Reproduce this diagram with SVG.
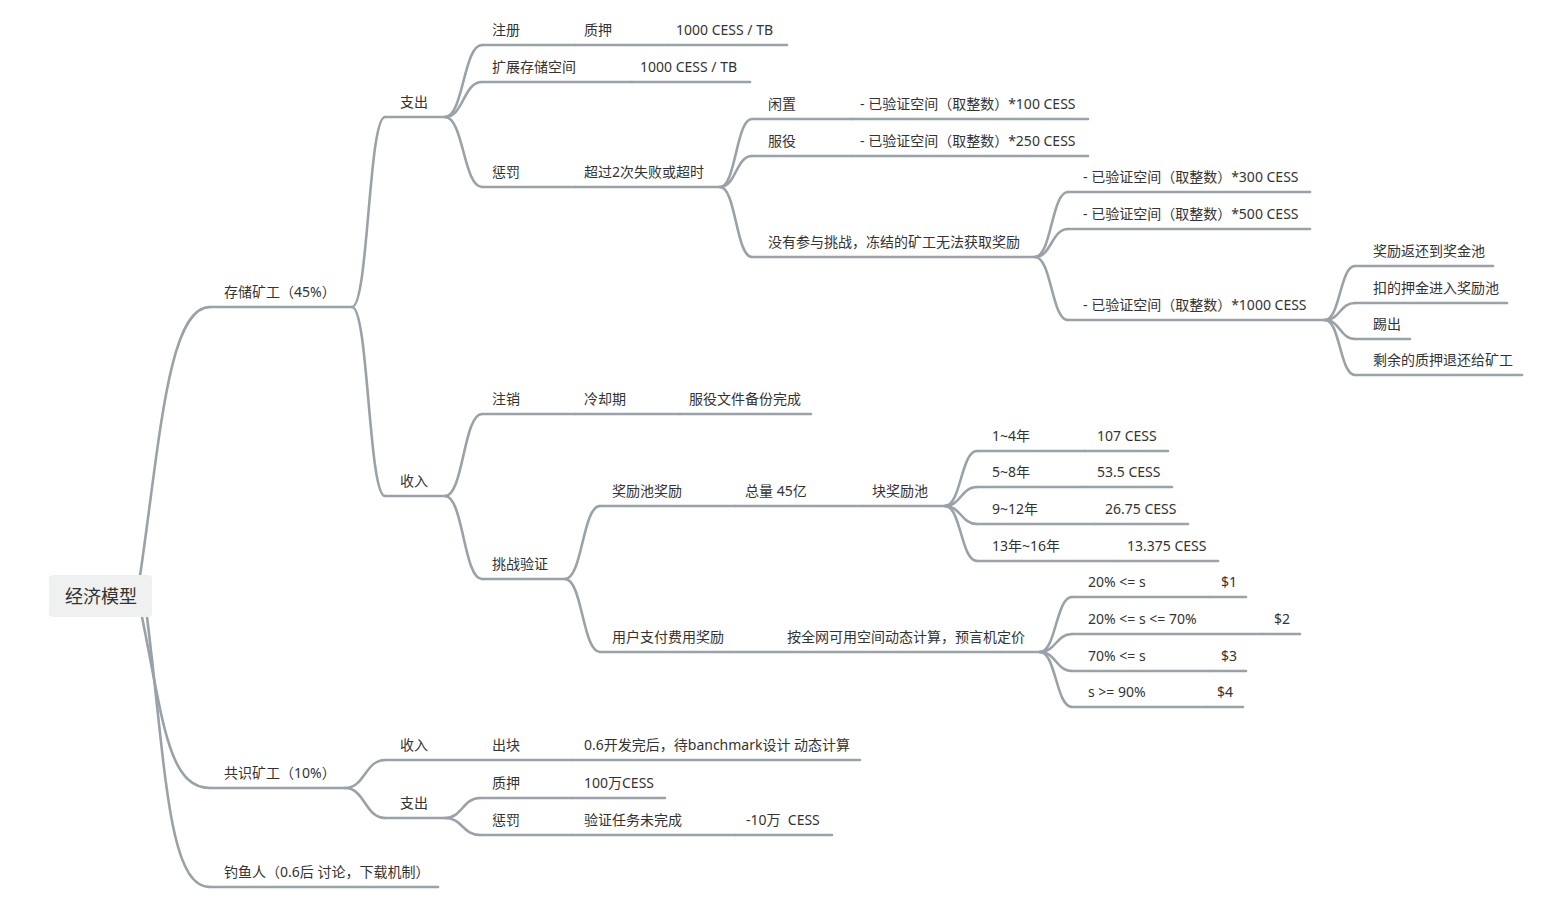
<svg xmlns="http://www.w3.org/2000/svg" width="1544" height="921" viewBox="0 0 1544 921">
<style>
text{font-family:"Noto Sans","Noto Sans CJK SC",sans-serif;font-size:14px;fill:#333;white-space:pre}
.root text{font-size:18px}
.u,.c{fill:none;stroke:#99a1a9;stroke-width:2.6;stroke-linecap:round}
</style>
<rect width="1544" height="921" fill="#fff"/>
<g id="connectors">
<path class="c" d="M140 576 C160 440 168 307 210 307"/>
<path class="c" d="M142 617 C163 720 168 788 210 788"/>
<path class="c" d="M147 617 C166 770 168 887 210 887"/>
<path class="c" d="M352 307 C368.5 307 368.5 117 385 117"/>
<path class="c" d="M352 307 C368.5 307 368.5 496 385 496"/>
<path class="c" d="M445 117 C463.5 117 463.5 45 482 45"/>
<path class="c" d="M445 117 C463.5 117 463.5 82 482 82"/>
<path class="c" d="M445 117 C463.5 117 463.5 187 482 187"/>
<path class="c" d="M720 187 C736 187 736 119 752 119"/>
<path class="c" d="M720 187 C736 187 736 156 752 156"/>
<path class="c" d="M720 187 C736 187 736 257 752 257"/>
<path class="c" d="M1035 257 C1051.5 257 1051.5 192 1068 192"/>
<path class="c" d="M1035 257 C1051.5 257 1051.5 229 1068 229"/>
<path class="c" d="M1035 257 C1051.5 257 1051.5 320 1068 320"/>
<path class="c" d="M1325 320 C1340 320 1340 266 1355 266"/>
<path class="c" d="M1325 320 C1340 320 1340 303 1355 303"/>
<path class="c" d="M1325 320 C1340 320 1340 339 1355 339"/>
<path class="c" d="M1325 320 C1340 320 1340 375 1355 375"/>
<path class="c" d="M445 496 C463.5 496 463.5 414 482 414"/>
<path class="c" d="M445 496 C463.5 496 463.5 579 482 579"/>
<path class="c" d="M565 579 C582.5 579 582.5 506 600 506"/>
<path class="c" d="M565 579 C582.5 579 582.5 652 600 652"/>
<path class="c" d="M945 506 C961 506 961 451 977 451"/>
<path class="c" d="M945 506 C961 506 961 487 977 487"/>
<path class="c" d="M945 506 C961 506 961 524 977 524"/>
<path class="c" d="M945 506 C961 506 961 561 977 561"/>
<path class="c" d="M1040 652 C1056 652 1056 597 1072 597"/>
<path class="c" d="M1040 652 C1056 652 1056 634 1072 634"/>
<path class="c" d="M1040 652 C1056 652 1056 671 1072 671"/>
<path class="c" d="M1040 652 C1056 652 1056 707 1072 707"/>
<path class="c" d="M345 788 C365 788 365 760 385 760"/>
<path class="c" d="M345 788 C365 788 365 818 385 818"/>
<path class="c" d="M445 818 C462.5 818 462.5 798 480 798"/>
<path class="c" d="M445 818 C462.5 818 462.5 835 480 835"/>
</g>
<g id="root" class="root"><rect x="49" y="575" width="103" height="42" rx="4" fill="#eff1f0"/><text x="65" y="603">经济模型</text></g>

<g id="n-storage"><path class="u" d="M210 307H352"/><text x="224" y="297">存储矿工（45%）</text></g>
<g id="n-s-out"><path class="u" d="M385 117H445"/><text x="400" y="107">支出</text></g>
<g id="n-reg"><path class="u" d="M482 45H575"/><text x="492" y="35">注册</text></g>
<g id="n-reg-pledge"><path class="u" d="M575 45H668"/><text x="584" y="35">质押</text></g>
<g id="n-reg-amt"><path class="u" d="M668 45H787"/><text x="676" y="35">1000 CESS / TB</text></g>
<g id="n-expand"><path class="u" d="M482 82H632"/><text x="492" y="72">扩展存储空间</text></g>
<g id="n-expand-amt"><path class="u" d="M632 82H750"/><text x="640" y="72">1000 CESS / TB</text></g>
<g id="n-penalty"><path class="u" d="M482 187H575"/><text x="492" y="177">惩罚</text></g>
<g id="n-penalty-cond"><path class="u" d="M575 187H720"/><text x="584" y="177">超过2次失败或超时</text></g>
<g id="n-idle"><path class="u" d="M752 119H852"/><text x="768" y="109">闲置</text></g>
<g id="n-idle-amt"><path class="u" d="M852 119H1088"/><text x="860" y="109">- 已验证空间（取整数）*100 CESS</text></g>
<g id="n-serve"><path class="u" d="M752 156H852"/><text x="768" y="146">服役</text></g>
<g id="n-serve-amt"><path class="u" d="M852 156H1088"/><text x="860" y="146">- 已验证空间（取整数）*250 CESS</text></g>
<g id="n-nochal"><path class="u" d="M752 257H1035"/><text x="768" y="247">没有参与挑战，冻结的矿工无法获取奖励</text></g>
<g id="n-300"><path class="u" d="M1068 192H1310"/><text x="1083" y="182">- 已验证空间（取整数）*300 CESS</text></g>
<g id="n-500"><path class="u" d="M1068 229H1310"/><text x="1083" y="219">- 已验证空间（取整数）*500 CESS</text></g>
<g id="n-1000"><path class="u" d="M1068 320H1325"/><text x="1083" y="310">- 已验证空间（取整数）*1000 CESS</text></g>
<g id="n-return"><path class="u" d="M1355 266H1493"/><text x="1373" y="256">奖励返还到奖金池</text></g>
<g id="n-deposit"><path class="u" d="M1355 303H1507"/><text x="1373" y="293">扣的押金进入奖励池</text></g>
<g id="n-kick"><path class="u" d="M1355 339H1410"/><text x="1373" y="329">踢出</text></g>
<g id="n-refund"><path class="u" d="M1355 375H1522"/><text x="1373" y="365">剩余的质押退还给矿工</text></g>

<g id="n-s-in"><path class="u" d="M385 496H445"/><text x="400" y="486">收入</text></g>
<g id="n-cancel"><path class="u" d="M482 414H575"/><text x="492" y="404">注销</text></g>
<g id="n-cool"><path class="u" d="M575 414H680"/><text x="584" y="404">冷却期</text></g>
<g id="n-backup"><path class="u" d="M680 414H811"/><text x="689" y="404">服役文件备份完成</text></g>
<g id="n-chal"><path class="u" d="M482 579H565"/><text x="492" y="569">挑战验证</text></g>
<g id="n-pool"><path class="u" d="M600 506H735"/><text x="612" y="496">奖励池奖励</text></g>
<g id="n-total"><path class="u" d="M735 506H862"/><text x="745" y="496">总量 45亿</text></g>
<g id="n-block"><path class="u" d="M862 506H945"/><text x="872" y="496">块奖励池</text></g>
<g id="n-y1"><path class="u" d="M977 451H1085"/><text x="992" y="441">1~4年</text></g>
<g id="n-y1v"><path class="u" d="M1085 451H1168"/><text x="1097" y="441">107 CESS</text></g>
<g id="n-y2"><path class="u" d="M977 487H1085"/><text x="992" y="477">5~8年</text></g>
<g id="n-y2v"><path class="u" d="M1085 487H1172"/><text x="1097" y="477">53.5 CESS</text></g>
<g id="n-y3"><path class="u" d="M977 524H1095"/><text x="992" y="514">9~12年</text></g>
<g id="n-y3v"><path class="u" d="M1095 524H1188"/><text x="1105" y="514">26.75 CESS</text></g>
<g id="n-y4"><path class="u" d="M977 561H1115"/><text x="992" y="551">13年~16年</text></g>
<g id="n-y4v"><path class="u" d="M1115 561H1218"/><text x="1127" y="551">13.375 CESS</text></g>
<g id="n-user"><path class="u" d="M600 652H730"/><text x="612" y="642">用户支付费用奖励</text></g>
<g id="n-dyn"><path class="u" d="M730 652H1040"/><text x="787" y="642">按全网可用空间动态计算，预言机定价</text></g>
<g id="n-p1"><path class="u" d="M1072 597H1210"/><text x="1088" y="587">20% &lt;= s</text></g>
<g id="n-p1v"><path class="u" d="M1210 597H1246"/><text x="1221" y="587">$1</text></g>
<g id="n-p2"><path class="u" d="M1072 634H1262"/><text x="1088" y="624">20% &lt;= s &lt;= 70%</text></g>
<g id="n-p2v"><path class="u" d="M1262 634H1300"/><text x="1274" y="624">$2</text></g>
<g id="n-p3"><path class="u" d="M1072 671H1210"/><text x="1088" y="661">70% &lt;= s</text></g>
<g id="n-p3v"><path class="u" d="M1210 671H1246"/><text x="1221" y="661">$3</text></g>
<g id="n-p4"><path class="u" d="M1072 707H1206"/><text x="1088" y="697">s &gt;= 90%</text></g>
<g id="n-p4v"><path class="u" d="M1206 707H1243"/><text x="1217" y="697">$4</text></g>

<g id="n-consensus"><path class="u" d="M210 788H345"/><text x="224" y="778">共识矿工（10%）</text></g>
<g id="n-c-in"><path class="u" d="M385 760H480"/><text x="400" y="750">收入</text></g>
<g id="n-c-block"><path class="u" d="M480 760H572"/><text x="492" y="750">出块</text></g>
<g id="n-c-bench"><path class="u" d="M572 760H860"/><text x="584" y="750">0.6开发完后，待banchmark设计 动态计算</text></g>
<g id="n-c-out"><path class="u" d="M385 818H445"/><text x="400" y="808">支出</text></g>
<g id="n-c-pledge"><path class="u" d="M480 798H572"/><text x="492" y="788">质押</text></g>
<g id="n-c-pledge-amt"><path class="u" d="M572 798H665"/><text x="584" y="788">100万CESS</text></g>
<g id="n-c-penalty"><path class="u" d="M480 835H572"/><text x="492" y="825">惩罚</text></g>
<g id="n-c-task"><path class="u" d="M572 835H735"/><text x="584" y="825">验证任务未完成</text></g>
<g id="n-c-fine"><path class="u" d="M735 835H832"/><text x="746" y="825">-10万  CESS</text></g>

<g id="n-fisher"><path class="u" d="M210 887H438"/><text x="224" y="877">钓鱼人（0.6后 讨论，下载机制）</text></g>
</svg>
